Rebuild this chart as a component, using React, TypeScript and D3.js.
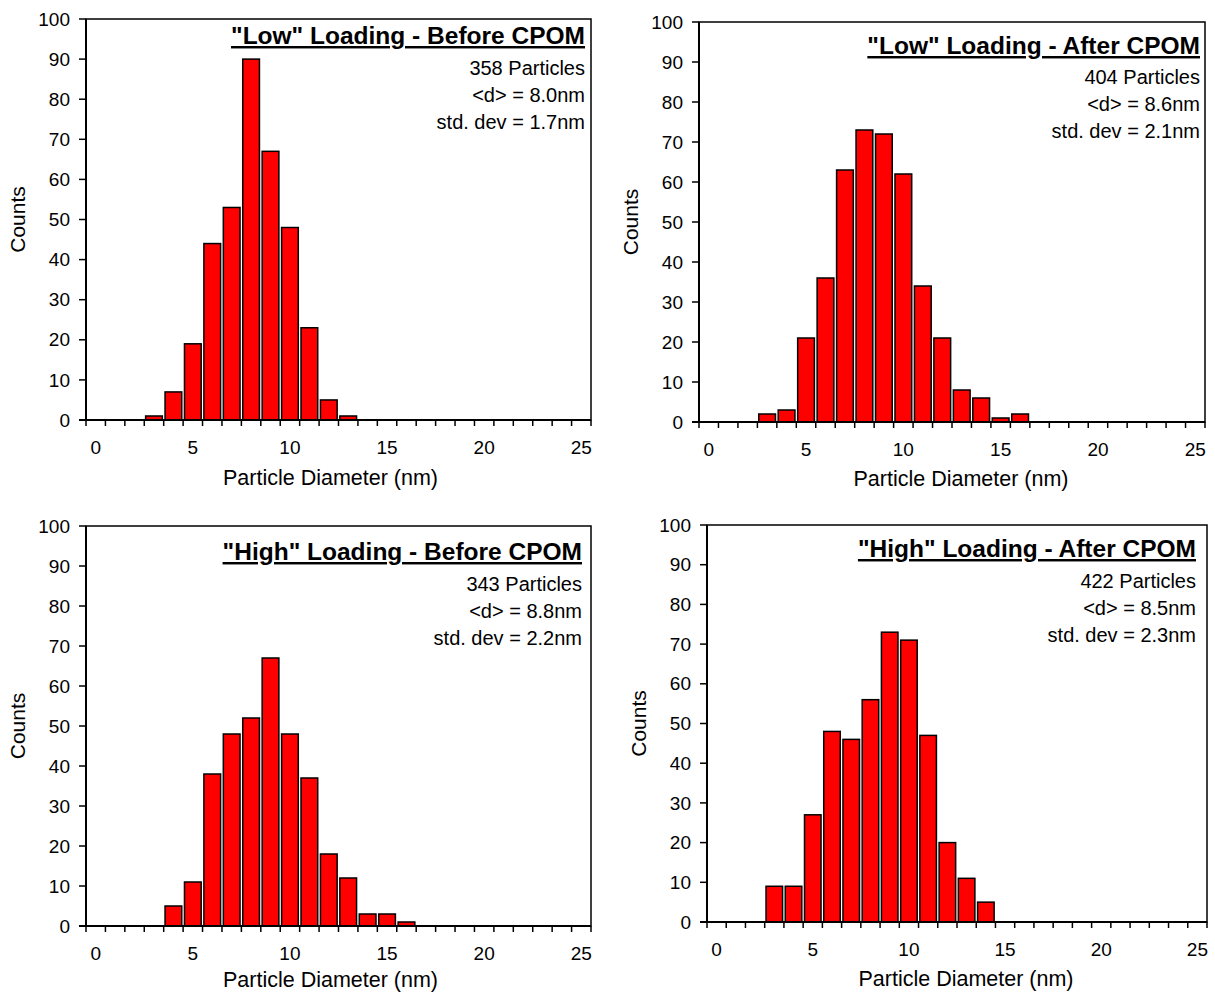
import React from 'react';
import * as d3 from 'd3';

// particle diameter bins (nm)
const diameters = [0, 1, 2, 3, 4, 5, 6, 7, 8, 9, 10, 11, 12, 13, 14, 15, 16, 17, 18, 19, 20, 21, 22, 23, 24, 25];
const diameterTicks = [0, 5, 10, 15, 20, 25];
const countTicks = [0, 10, 20, 30, 40, 50, 60, 70, 80, 90, 100];

// counts per bin
const lowBefore = [0, 0, 0, 1, 7, 19, 44, 53, 90, 67, 48, 23, 5, 1, 0, 0, 0, 0, 0, 0, 0, 0, 0, 0, 0, 0];
const lowAfter = [0, 0, 0, 2, 3, 21, 36, 63, 73, 72, 62, 34, 21, 8, 6, 1, 2, 0, 0, 0, 0, 0, 0, 0, 0, 0];
const highBefore = [0, 0, 0, 0, 5, 11, 38, 48, 52, 67, 48, 37, 18, 12, 3, 3, 1, 0, 0, 0, 0, 0, 0, 0, 0, 0];
const highAfter = [0, 0, 0, 9, 9, 27, 48, 46, 56, 73, 71, 47, 20, 11, 5, 0, 0, 0, 0, 0, 0, 0, 0, 0, 0, 0];

const titles = [
  '"Low" Loading - Before CPOM',
  '"Low" Loading - After CPOM',
  '"High" Loading - Before CPOM',
  '"High" Loading - After CPOM',
];
const particleCounts = [358, 404, 343, 422];
const meanDiameters = ['8.0', '8.6', '8.8', '8.5'];
const stdDevs = ['1.7', '2.1', '2.2', '2.3'];

const FONT = '"Liberation Sans", Arial, sans-serif';

// plot boxes and annotation offsets for each panel
const layouts = [
  { left: 86, right: 591, top: 19, bottom: 420, titleDy: 25, statsDy: 56, textInset: 6, xTitleDx: -8, xTitleDy: 57 },
  { left: 699, right: 1205, top: 22, bottom: 422, titleDy: 32, statsDy: 62, textInset: 5, xTitleDx: 9, xTitleDy: 56 },
  { left: 86, right: 591, top: 526, bottom: 926, titleDy: 34, statsDy: 65, textInset: 9, xTitleDx: -8, xTitleDy: 53 },
  { left: 707, right: 1207, top: 525, bottom: 922, titleDy: 32, statsDy: 63, textInset: 11, xTitleDx: 9, xTitleDy: 56 },
];
const seriesList = [lowBefore, lowAfter, highBefore, highAfter];

function Histogram({ idx }: { idx: number }) {
  const L = layouts[idx];
  const counts = seriesList[idx];

  const x = d3.scaleBand<number>()
    .domain(diameters)
    .range([L.left, L.right])
    .paddingInner(0.14)
    .paddingOuter(0.07);
  const y = d3.scaleLinear().domain([0, 100]).range([L.bottom, L.top]);
  const step = x.step();
  const edges = d3.range(diameters.length + 1).map(i => L.left + i * step);
  const textX = L.right - L.textInset;
  const stats = [
    `${particleCounts[idx]} Particles`,
    `<d> = ${meanDiameters[idx]}nm`,
    `std. dev = ${stdDevs[idx]}nm`,
  ];

  return (
    <g fontFamily={FONT} fill="#000">
      {/* frame */}
      <rect x={L.left} y={L.top} width={L.right - L.left} height={L.bottom - L.top}
        fill="none" stroke="#000" strokeWidth={1.5} />

      {/* bars */}
      {diameters.map((d, i) => counts[i] > 0 && (
        <rect key={d} x={x(d)} y={y(counts[i])} width={x.bandwidth()} height={y(0) - y(counts[i])}
          fill="#ff0000" stroke="#000" strokeWidth={1.5} />
      ))}

      {/* axes lines */}
      <line x1={L.left - 7} x2={L.right} y1={L.bottom} y2={L.bottom} stroke="#000" strokeWidth={2} />
      <line x1={L.left} x2={L.left} y1={L.top} y2={L.bottom} stroke="#000" strokeWidth={2} />

      {/* y ticks */}
      {countTicks.map(t => (
        <g key={t}>
          <line x1={L.left - 7} x2={L.left} y1={y(t)} y2={y(t)} stroke="#000" strokeWidth={1.5} />
          <text x={L.left - 16} y={y(t)} dy="0.35em" textAnchor="end" fontSize={19}>{t}</text>
        </g>
      ))}

      {/* x ticks at bin edges */}
      {edges.map((e, i) => (
        <line key={i} x1={e} x2={e} y1={L.bottom} y2={L.bottom + 6} stroke="#000" strokeWidth={1.5} />
      ))}
      {diameterTicks.map(t => (
        <text key={t} x={(x(t) as number) + x.bandwidth() / 2} y={L.bottom + 27} dy="0.35em"
          textAnchor="middle" fontSize={19}>{t}</text>
      ))}

      {/* axis titles */}
      <text x={(L.left + L.right) / 2 + L.xTitleDx} y={L.bottom + L.xTitleDy} dy="0.35em" textAnchor="middle" fontSize={21.5}>
        Particle Diameter (nm)
      </text>
      <text transform={`translate(${L.left - 68},${(L.top + L.bottom) / 2}) rotate(-90)`} dy="0.35em"
        textAnchor="middle" fontSize={21}>Counts</text>

      {/* annotation */}
      <text x={textX} y={L.top + L.titleDy} textAnchor="end" fontSize={24.5} fontWeight="bold"
        textDecoration="underline">{titles[idx]}</text>
      {stats.map((s, i) => (
        <text key={i} x={textX} y={L.top + L.statsDy + i * 27} textAnchor="end" fontSize={20}>{s}</text>
      ))}
    </g>
  );
}

export default function App() {
  return (
    <svg width={1215} height={992} style={{ position: 'absolute', left: 0, top: 0, background: '#fff' }}>
      <rect width={1215} height={992} fill="#fff" />
      {layouts.map((_, i) => <Histogram key={i} idx={i} />)}
    </svg>
  );
}
